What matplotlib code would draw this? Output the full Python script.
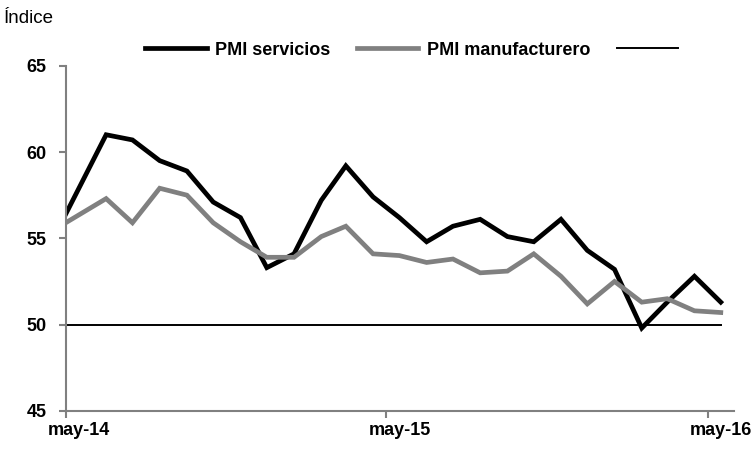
import pandas as pd
import matplotlib
matplotlib.use("Agg")
import matplotlib.pyplot as plt

plt.rcParams["font.family"] = ["Liberation Sans", "DejaVu Sans"]

# fechas de cada dato (el primero cae justo en el eje)
fechas = [
    "2014-05-01", "2014-06-16", "2014-07-16", "2014-08-16", "2014-09-16",
    "2014-10-16", "2014-11-16", "2014-12-16", "2015-01-16", "2015-02-16",
    "2015-03-16", "2015-04-16", "2015-05-16", "2015-06-16", "2015-07-16",
    "2015-08-16", "2015-09-16", "2015-10-16", "2015-11-16", "2015-12-16",
    "2016-01-16", "2016-02-16", "2016-03-16", "2016-04-16", "2016-05-16",
]
pmi_servicios = [
    56.4, 61.0, 60.7, 59.5, 58.9, 57.1, 56.2, 53.3, 54.1, 57.2,
    59.2, 57.4, 56.2, 54.8, 55.7, 56.1, 55.1, 54.8, 56.1, 54.3,
    53.2, 49.8, 51.3, 52.8, 51.3,
]
pmi_manufacturero = [
    55.9, 57.3, 55.9, 57.9, 57.5, 55.9, 54.8, 53.9, 53.9, 55.1,
    55.7, 54.1, 54.0, 53.6, 53.8, 53.0, 53.1, 54.1, 52.8, 51.2,
    52.5, 51.3, 51.5, 50.8, 50.7,
]
umbral = [50] * len(fechas)

ticks_fechas = ["2014-05-01", "2015-05-01", "2016-05-01"]
etiquetas_fechas = ["2014-05-16", "2015-05-16", "2016-05-16"]
etiquetas = ["may-14", "may-15", "may-16"]

x = pd.to_datetime(fechas)

fig = plt.figure(figsize=(7.52, 4.51), dpi=100)
ax = fig.add_axes([0.0874, 0.0889, 0.976 - 0.0874, 0.8543 - 0.0889])

l1, = ax.plot(x, pmi_servicios, color="black", lw=3.4, solid_joinstyle="miter")
l2, = ax.plot(x, pmi_manufacturero, color="#808080", lw=3.4, solid_joinstyle="miter")
l3, = ax.plot(x, umbral, color="black", lw=1.4)

ax.set_ylim(45, 65)
ax.set_yticks([45, 50, 55, 60, 65])
ax.set_xlim(pd.Timestamp("2014-05-01"), pd.Timestamp("2016-05-31"))

# ticks al inicio de mayo, etiquetas a mitad de mes
ax.set_xticks(pd.to_datetime(ticks_fechas))
ax.set_xticklabels([])
ax.set_xticks(pd.to_datetime(etiquetas_fechas), minor=True)
ax.set_xticklabels(etiquetas, minor=True)

for s in ["top", "right"]:
    ax.spines[s].set_visible(False)
for s in ["left", "bottom"]:
    ax.spines[s].set_color("#808080")
    ax.spines[s].set_linewidth(1.5)

ax.tick_params(axis="y", which="major", length=5, width=1.5, color="#808080",
               pad=9, labelsize=13)
ax.tick_params(axis="x", which="major", length=5, width=1.5, color="#808080")
ax.tick_params(axis="x", which="minor", length=0, pad=8, labelsize=13)
for t in ax.get_yticklabels() + ax.get_xticklabels(minor=True):
    t.set_fontweight("bold")

fig.text(0.005, 0.96, "Índice", fontsize=13.5, ha="left", va="center")

leg = fig.legend([l1, l2, l3], ["PMI servicios", "PMI manufacturero", ""],
                 loc="center", bbox_to_anchor=(0.553, 0.889), ncol=3,
                 frameon=False, handlelength=3.4, handletextpad=0.45,
                 columnspacing=1.5, prop={"weight": "bold", "size": 13})

fig.savefig("out.png", dpi=100)
